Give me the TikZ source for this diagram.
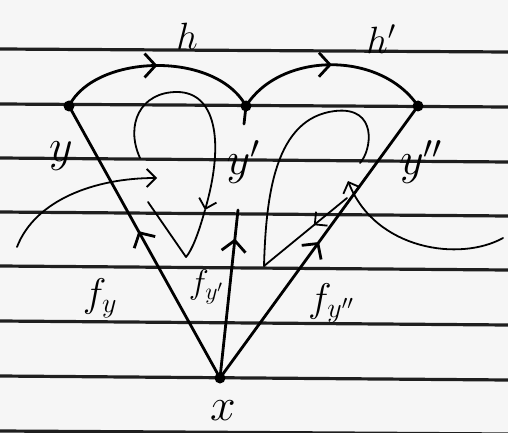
\RequirePackage{fix-cm}
\documentclass[tikz,border=0pt]{standalone}
\usetikzlibrary{arrows.meta,decorations.markings}
\begin{document}
\begin{tikzpicture}[x=1pt,y=-1pt,
  pen/.style={line width=2.8pt, line cap=round, line join=round},
  thinpen/.style={line width=1.8pt, line cap=round, line join=round},
  rule/.style={line width=3.2pt, black!88},
  dot/.style={circle, fill=black, inner sep=0pt, minimum size=11pt},
  midarrow/.style={postaction={decorate}, decoration={markings,
     mark=at position #1 with {\arrow{Straight Barb[length=11pt,width=24pt,line width=2.8pt]}}}},
  tipthin/.style={-{Straight Barb[length=9pt,width=18pt,line width=1.8pt]}},
  biglbl/.style={inner sep=0pt, font=\fontsize{46}{46}\selectfont},
  hlbl/.style={inner sep=0pt, font=\fontsize{38}{38}\selectfont},
  flbl/.style={inner sep=0pt, font=\fontsize{40}{40}\selectfont},
  fsmall/.style={inner sep=0pt, font=\fontsize{34}{34}\selectfont}
]
\fill[gray!7] (0,0) rectangle (508,433);
\useasboundingbox (0,0) rectangle (508,433);

% ruled lines
\foreach \a/\b in {49/52,104/107,158/162,212/216,266/270,321/325,376/380,431/434}
  \draw[rule] (0,\a) -- (508,\b);

% points
\node[dot] (Y) at (69,106) {};
\node[dot] (Yp) at (246,106) {};
\node[dot] (Ypp) at (418,106) {};
\node[dot] (X) at (220,378) {};
\coordinate (Yend) at (238,210);
\coordinate (Ytail) at (244,124);

% top arcs h and h'
\draw[pen, midarrow=0.5] (Y.center) .. controls (95,54) and (215,50) .. (Yp.center);
\draw[pen, midarrow=0.5] (Yp.center) .. controls (280,52) and (380,50) .. (Ypp.center);
\draw[pen] (Yp.center) -- (Ytail);

% maps from x
\draw[pen, midarrow=0.54] (X.center) -- (Y.center);
\draw[pen, midarrow=0.83] (X.center) -- (Yend);
\draw[pen, midarrow=0.50] (X.center) -- (Ypp.center);

% entering curve on the left
\draw[thinpen, tipthin] (17,247) .. controls (35,200) and (95,178) .. (157,178);

% left loop
\draw[thinpen, tipthin] (140,158) .. controls (125,125) and (140,92) .. (177,92)
   .. controls (215,92) and (225,140) .. (205,210);
\draw[thinpen] (205,210) .. controls (198,235) and (192,250) .. (186,257) -- (148,202);

% right loop
\draw[thinpen, postaction={decorate}, decoration={markings,
     mark=at position 0.4 with {\arrow{Straight Barb[length=9pt,width=18pt,line width=1.8pt]}}}]
   (347,198) -- (264,266);
\draw[thinpen] (264,266) .. controls (266,195) and (275,118) .. (335,111)
   .. controls (378,106) and (372,150) .. (360,163);

% exit curve on the right
\draw[thinpen, tipthin] (503,238) .. controls (460,262) and (375,250) .. (348,181);

% labels
\node[hlbl] (lh) at (187,36) {$h$};
\node[hlbl] (lhp) at (381,39) {$h'$};
\node[biglbl] (ly) at (61,156) {$y$};
\node[biglbl] (lyp) at (243,162) {$y'$};
\node[biglbl] (lypp) at (421,162) {$y''$};
\node[biglbl] (lx) at (223,411) {$x$};
\node[flbl] (lfy) at (100,298) {$f_y$};
\node[fsmall] (lfyp) at (206,287) {$f_{y'}$};
\node[flbl] (lfypp) at (331,303) {$f_{y''}$};
\end{tikzpicture}
\end{document}
